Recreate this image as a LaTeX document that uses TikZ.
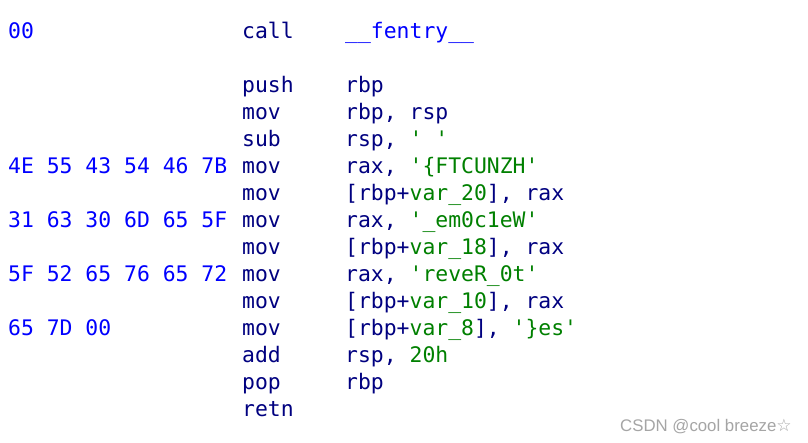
\documentclass[tikz,border=0pt]{standalone}
\usepackage{fontspec}
\setmonofont{DejaVu Sans Mono}
\setsansfont{Liberation Sans}
\newfontfamily\symfont{DejaVu Sans}
\definecolor{hexblue}{RGB}{0,0,255}
\definecolor{insnavy}{RGB}{0,0,128}
\definecolor{strgreen}{RGB}{0,128,0}
\definecolor{wmgray}{RGB}{165,165,165}
\newcommand\sq{\char39\relax}
\newcommand\gr[1]{\textcolor{strgreen}{#1}}
\tikzset{
  code/.style={anchor=base west,inner sep=0pt,font=\fontsize{21.4pt}{21.4pt}\ttfamily},
  bytes/.style={code,text=hexblue},
  insn/.style={code,text=insnavy},
}
\begin{document}
\begin{tikzpicture}[x=1pt,y=-1pt]
\useasboundingbox[fill=white] (0,0) rectangle (808,442);
\def\bx{8}\def\mx{242}\def\ox{345}
% row 0
\node[bytes] (b0) at (\bx,38) {00};
\node[insn] (m0) at (\mx,38) {call};
\node[code,text=hexblue] (o0) at (\ox,38) {\_\_fentry\_\_};
% row 2
\node[insn] (m2) at (\mx,92) {push};
\node[insn] (o2) at (\ox,92) {rbp};
% row 3
\node[insn] (m3) at (\mx,119) {mov};
\node[insn] (o3) at (\ox,119) {rbp, rsp};
% row 4
\node[insn] (m4) at (\mx,146) {sub};
\node[insn] (o4) at (\ox,146) {rsp, \gr{\sq\ \sq}};
% row 5
\node[bytes] (b5) at (\bx,173) {4E 55 43 54 46 7B};
\node[insn] (m5) at (\mx,173) {mov};
\node[insn] (o5) at (\ox,173) {rax, \gr{\sq\{FTCUNZH\sq}};
% row 6
\node[insn] (m6) at (\mx,200) {mov};
\node[insn] (o6) at (\ox,200) {[rbp+\gr{var\_20}], rax};
% row 7
\node[bytes] (b7) at (\bx,227) {31 63 30 6D 65 5F};
\node[insn] (m7) at (\mx,227) {mov};
\node[insn] (o7) at (\ox,227) {rax, \gr{\sq\_em0c1eW\sq}};
% row 8
\node[insn] (m8) at (\mx,254) {mov};
\node[insn] (o8) at (\ox,254) {[rbp+\gr{var\_18}], rax};
% row 9
\node[bytes] (b9) at (\bx,281) {5F 52 65 76 65 72};
\node[insn] (m9) at (\mx,281) {mov};
\node[insn] (o9) at (\ox,281) {rax, \gr{\sq reveR\_0t\sq}};
% row 10
\node[insn] (m10) at (\mx,308) {mov};
\node[insn] (o10) at (\ox,308) {[rbp+\gr{var\_10}], rax};
% row 11
\node[bytes] (b11) at (\bx,335) {65 7D 00};
\node[insn] (m11) at (\mx,335) {mov};
\node[insn] (o11) at (\ox,335) {[rbp+\gr{var\_8}], \gr{\sq\}es\sq}};
% row 12
\node[insn] (m12) at (\mx,362) {add};
\node[insn] (o12) at (\ox,362) {rsp, \gr{20h}};
% row 13
\node[insn] (m13) at (\mx,389) {pop};
\node[insn] (o13) at (\ox,389) {rbp};
% row 14
\node[insn] (m14) at (\mx,416) {retn};
% watermark
\node[anchor=base west,inner sep=0pt,text=wmgray,font=\fontsize{16.8pt}{16.8pt}\sffamily] (wm) at (620,431) {CSDN @cool breeze{\symfont\fontsize{17pt}{17pt}\selectfont ☆}};
\end{tikzpicture}
\end{document}
